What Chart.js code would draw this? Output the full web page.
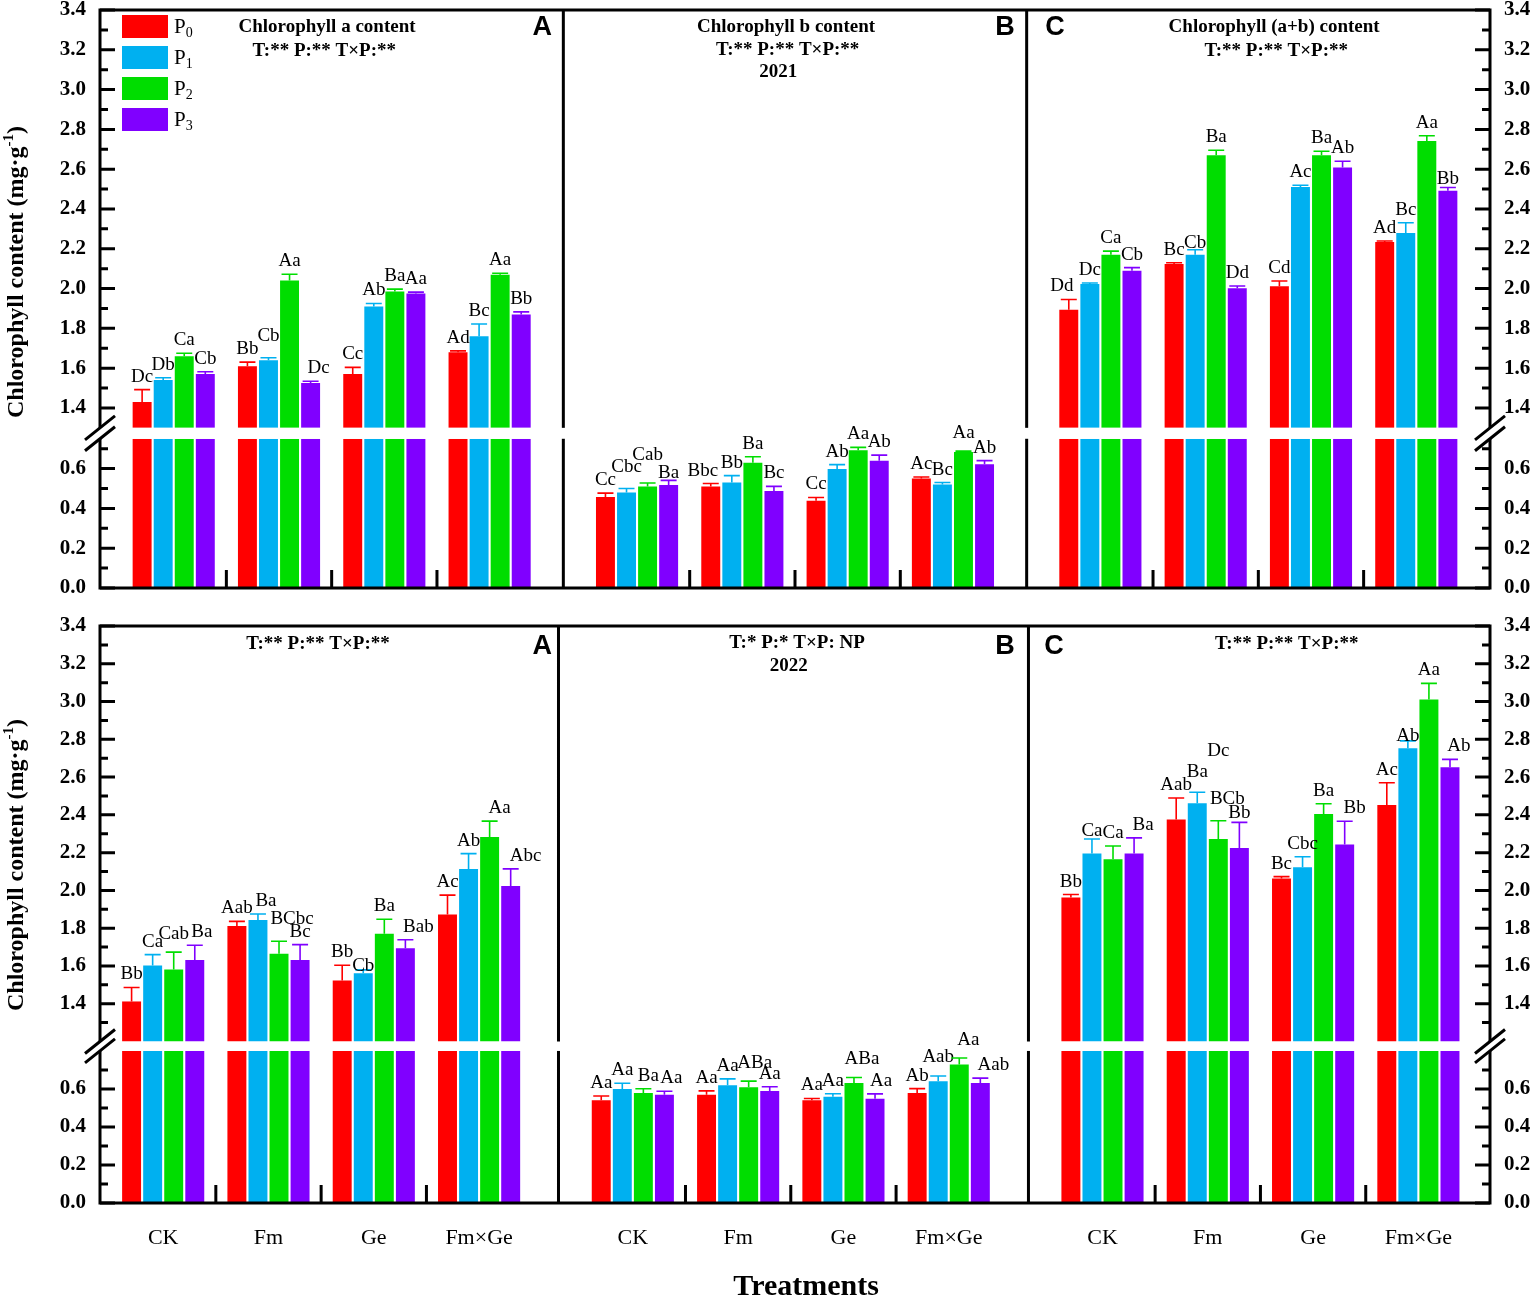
<!DOCTYPE html>
<html>
<head>
<meta charset="utf-8">
<title>Chlorophyll content 2021 / 2022</title>
<script src="https://cdn.jsdelivr.net/npm/chart.js@4.4.1/dist/chart.umd.min.js"></script>
<style>
  html, body { margin:0; padding:0; background:#ffffff; }
  #wrap { position:relative; width:1535px; height:1301px; overflow:hidden; background:#fff; }
  #c1 { position:absolute; left:0; top:0; }
  #c2 { position:absolute; left:0; top:605px; }
</style>
</head>
<body>
<div id="wrap">
  <canvas id="c1" width="1535" height="605"></canvas>
  <canvas id="c2" width="1535" height="696"></canvas>
</div>
<script>
const SERIF = '"Times New Roman", "Liberation Serif", serif';
const SANS = 'Arial, "Liberation Sans", sans-serif';

// ---------------- data ----------------
const categories = ['CK', 'Fm', 'Ge', 'Fm×Ge'];
const seriesNames = ['P0', 'P1', 'P2', 'P3'];
const seriesColors = ['#ff0000', '#00b0f0', '#00dd00', '#8000ff'];
const lowerTickValues = [0.0, 0.1, 0.2, 0.3, 0.4, 0.5, 0.6, 0.7, 0.8];
const upperTickValues = [1.2, 1.3, 1.4, 1.5, 1.6, 1.7, 1.8, 1.9, 2.0, 2.1, 2.2, 2.3, 2.4, 2.5, 2.6, 2.7, 2.8, 2.9, 3.0, 3.1, 3.2, 3.3, 3.4];

// rows: CK, Fm, Ge, Fm×Ge ; columns: P0, P1, P2, P3
const a2021 = [[1.43, 1.54, 1.66, 1.57], [1.61, 1.64, 2.04, 1.525], [1.57, 1.91, 1.985, 1.975], [1.68, 1.76, 2.07, 1.87]];
const a2021Err = [[0.062, 0.012, 0.015, 0.012], [0.02, 0.012, 0.032, 0.009], [0.034, 0.015, 0.012, 0.007], [0.007, 0.062, 0.007, 0.013]];
const a2021Sig = [['Dc', 'Db', 'Ca', 'Cb'], ['Bb', 'Cb', 'Aa', 'Dc'], ['Cc', 'Ab', 'Ba', 'Aa'], ['Ad', 'Bc', 'Aa', 'Bb']];

const b2021 = [[0.457, 0.48, 0.51, 0.518], [0.51, 0.53, 0.63, 0.488], [0.438, 0.598, 0.692, 0.64], [0.55, 0.52, 0.683, 0.622]];
const b2021Err = [[0.02, 0.02, 0.018, 0.023], [0.015, 0.035, 0.03, 0.023], [0.017, 0.022, 0.015, 0.028], [0.008, 0.01, 0.005, 0.018]];
const b2021Sig = [['Cc', 'Cbc', 'Cab', 'Ba'], ['Bbc', 'Bb', 'Ba', 'Bc'], ['Cc', 'Ab', 'Aa', 'Ab'], ['Ac', 'Bc', 'Aa', 'Ab']];

const ab2021 = [[1.893, 2.023, 2.17, 2.09], [2.123, 2.17, 2.67, 2.002], [2.012, 2.511, 2.67, 2.608], [2.234, 2.279, 2.742, 2.491]];
const ab2021Err = [[0.052, 0.005, 0.018, 0.015], [0.007, 0.025, 0.025, 0.011], [0.026, 0.008, 0.02, 0.032], [0.005, 0.052, 0.026, 0.017]];
const ab2021Sig = [['Dd', 'Dc', 'Ca', 'Cb'], ['Bc', 'Cb', 'Ba', 'Dd'], ['Cd', 'Ac', 'Ba', 'Ab'], ['Ad', 'Bc', 'Aa', 'Bb']];

const a2022 = [[1.412, 1.602, 1.581, 1.632], [1.812, 1.843, 1.664, 1.632], [1.523, 1.562, 1.771, 1.694], [1.873, 2.114, 2.283, 2.023]];
const a2022Err = [[0.074, 0.058, 0.092, 0.078], [0.024, 0.032, 0.067, 0.081], [0.081, 0.017, 0.076, 0.045], [0.102, 0.081, 0.084, 0.091]];
const a2022Sig = [['Bb', 'Ca', 'Cab', 'Ba'], ['Aab', 'Ba', 'BCbc', 'Bc'], ['Bb', 'Cb', 'Ba', 'Bab'], ['Ac', 'Ab', 'Aa', 'Abc']];

const b2022 = [[0.54, 0.60, 0.579, 0.57], [0.57, 0.62, 0.609, 0.589], [0.54, 0.559, 0.632, 0.549], [0.579, 0.641, 0.729, 0.632]];
const b2022Err = [[0.023, 0.03, 0.022, 0.018], [0.02, 0.033, 0.032, 0.023], [0.01, 0.016, 0.028, 0.025], [0.023, 0.027, 0.034, 0.025]];
const b2022Sig = [['Aa', 'Aa', 'Ba', 'Aa'], ['Aa', 'Aa', 'ABa', 'Aa'], ['Aa', 'Aa', 'ABa', 'Aa'], ['Ab', 'Aab', 'Aa', 'Aab']];

const ab2022 = [[1.963, 2.195, 2.165, 2.195], [2.375, 2.462, 2.272, 2.225], [2.063, 2.123, 2.404, 2.243], [2.452, 2.753, 3.011, 2.652]];
const ab2022Err = [[0.015, 0.077, 0.07, 0.083], [0.114, 0.058, 0.097, 0.135], [0.01, 0.055, 0.055, 0.123], [0.118, 0.039, 0.085, 0.042]];
const ab2022Sig = [['Bb', 'Ca', 'Ca', 'Ba'], ['Aab', 'Ba', 'BCb', 'Bb'], ['Bc', 'Cbc', 'Ba', 'Bb'], ['Ac', 'Ab', 'Aa', 'Ab']];

const texts2021 = [
  { t: 'Chlorophyll a content', x: 2.156, dy: 17, kind: 'title' },
  { t: 'T:** P:** T×P:**', x: 2.13, dy: 41, kind: 'title' },
  { t: 'A', x: 4.2, dy: 18, kind: 'tag' },
  { t: 'Chlorophyll b content', x: 6.515, dy: 17, kind: 'title' },
  { t: 'T:** P:** T×P:**', x: 6.53, dy: 40, kind: 'title' },
  { t: '2021', x: 6.44, dy: 62, kind: 'title' },
  { t: 'B', x: 8.594, dy: 18, kind: 'tag' },
  { t: 'C', x: 9.07, dy: 18, kind: 'tag' },
  { t: 'Chlorophyll (a+b) content', x: 11.15, dy: 17, kind: 'title' },
  { t: 'T:** P:** T×P:**', x: 11.17, dy: 41, kind: 'title' }
];
const texts2022 = [
  { t: 'T:** P:** T×P:**', x: 2.07, dy: 18, kind: 'title' },
  { t: 'A', x: 4.2, dy: 21, kind: 'tag' },
  { t: 'T:* P:* T×P: NP', x: 6.62, dy: 17, kind: 'title' },
  { t: '2022', x: 6.54, dy: 40, kind: 'title' },
  { t: 'B', x: 8.594, dy: 21, kind: 'tag' },
  { t: 'C', x: 9.06, dy: 21, kind: 'tag' },
  { t: 'T:** P:** T×P:**', x: 11.27, dy: 18, kind: 'title' }
];
const extraLabels2022 = [{ text: 'Dc', panel: 2, group: 1, series: 2, value: 2.714 }];
const yAxisTitle = ['Chlorophyll content (mg·g', '-1', ')'];
const xAxisTitle = 'Treatments';

// ---------------- layout ----------------
// letter nudges (pixels) where the original moved labels to avoid overlaps
const labelNudges = [
  { row: 'c1', p: 0, g: 1, s: 1, dx: 0, dy: -9 }, { row: 'c1', p: 0, g: 1, s: 3, dx: 8, dy: 0 },
  { row: 'c1', p: 1, g: 0, s: 1, dx: 0, dy: -9 }, { row: 'c1', p: 1, g: 0, s: 2, dx: 0, dy: -15 },
  { row: 'c1', p: 1, g: 0, s: 3, dx: 0, dy: 6 }, { row: 'c1', p: 1, g: 1, s: 0, dx: -8, dy: 0 },
  { row: 'c1', p: 1, g: 3, s: 2, dx: 0, dy: -5 },
  { row: 'c1', p: 2, g: 0, s: 0, dx: -7, dy: 0 }, { row: 'c1', p: 2, g: 1, s: 1, dx: 0, dy: 6 },
  { row: 'c1', p: 2, g: 3, s: 3, dx: 0, dy: 5 },
  { row: 'c2', p: 0, g: 0, s: 2, dx: 0, dy: -5 }, { row: 'c2', p: 0, g: 0, s: 3, dx: 7, dy: 0 },
  { row: 'c2', p: 0, g: 1, s: 1, dx: 8, dy: 0 }, { row: 'c2', p: 0, g: 1, s: 2, dx: 13, dy: -9 },
  { row: 'c2', p: 0, g: 2, s: 1, dx: 0, dy: 9 }, { row: 'c2', p: 0, g: 2, s: 3, dx: 13, dy: 0 },
  { row: 'c2', p: 0, g: 3, s: 2, dx: 10, dy: 0 }, { row: 'c2', p: 0, g: 3, s: 3, dx: 15, dy: 0 },
  { row: 'c2', p: 1, g: 0, s: 2, dx: 5, dy: 0 }, { row: 'c2', p: 1, g: 0, s: 3, dx: 7, dy: 0 },
  { row: 'c2', p: 1, g: 1, s: 2, dx: 6, dy: -5 }, { row: 'c2', p: 1, g: 2, s: 2, dx: 8, dy: -6 },
  { row: 'c2', p: 1, g: 2, s: 3, dx: 6, dy: 0 }, { row: 'c2', p: 1, g: 3, s: 1, dx: 0, dy: -6 },
  { row: 'c2', p: 1, g: 3, s: 2, dx: 9, dy: -5 }, { row: 'c2', p: 1, g: 3, s: 3, dx: 13, dy: 0 },
  { row: 'c2', p: 2, g: 0, s: 1, dx: 0, dy: 5 }, { row: 'c2', p: 2, g: 0, s: 3, dx: 9, dy: 0 },
  { row: 'c2', p: 2, g: 1, s: 1, dx: 0, dy: -7 }, { row: 'c2', p: 2, g: 1, s: 2, dx: 9, dy: -9 },
  { row: 'c2', p: 2, g: 1, s: 3, dx: 0, dy: 4 }, { row: 'c2', p: 2, g: 2, s: 3, dx: 10, dy: 0 },
  { row: 'c2', p: 2, g: 3, s: 1, dx: 0, dy: 8 }, { row: 'c2', p: 2, g: 3, s: 3, dx: 9, dy: 0 }
];

const rows = {
  c1: {
    panels: [
      { values: a2021, errors: a2021Err, letters: a2021Sig },
      { values: b2021, errors: b2021Err, letters: b2021Sig },
      { values: ab2021, errors: ab2021Err, letters: ab2021Sig }
    ],
    bounds: [0, 4.4, 8.8, 13.2], firstCenter: [0.7, 5.1, 9.5],
    loMax: 0.75, hiBase: 1.3, hiMin: 1.245,
    padTop: 10, xHeight: 17, showX: false, legend: true,
    texts: texts2021, extra: [], yTitleY: 272, xTitle: false
  },
  c2: {
    panels: [
      { values: a2022, errors: a2022Err, letters: a2022Sig },
      { values: b2022, errors: b2022Err, letters: b2022Sig },
      { values: ab2022, errors: ab2022Err, letters: ab2022Sig }
    ],
    bounds: [0, 4.354, 8.817, 13.2], firstCenter: [0.6, 5.06, 9.52],
    loMax: 0.8, hiBase: 1.2, hiMin: 1.15,
    padTop: 21, xHeight: 98, showX: true, legend: false,
    texts: texts2022, extra: extraLabels2022, yTitleY: 260, xTitle: true
  }
};

function isMajor(v) { return Math.round(v * 10) % 2 === 0; }
function nudgeFor(id, p, g, s) {
  const n = labelNudges.find(q => q.row === id && q.p === p && q.g === g && q.s === s);
  return n || { dx: 0, dy: 0 };
}

const decor = {
  id: 'decor',
  afterDatasetsDraw(chart) {
    const id = chart.canvas.id;
    const row = rows[id];
    const ctx = chart.ctx;
    const ca = chart.chartArea;
    const xs = chart.scales.x, lo = chart.scales.yLo, hi = chart.scales.yHi;
    ctx.save();

    // frame, panel dividers, group separator ticks, inward y ticks
    ctx.strokeStyle = '#000';
    ctx.lineWidth = 3;
    ctx.strokeRect(ca.left, ca.top, ca.right - ca.left, ca.bottom - ca.top);
    ctx.beginPath();
    row.bounds.slice(1, -1).forEach(b => {
      const px = xs.getPixelForValue(b);
      ctx.moveTo(px, ca.top); ctx.lineTo(px, ca.bottom);
    });
    row.firstCenter.forEach(fc => {
      for (let g = 0; g < categories.length - 1; g++) {
        const px = xs.getPixelForValue(fc + g + 0.5);
        ctx.moveTo(px, ca.bottom); ctx.lineTo(px, ca.bottom - 18);
      }
    });
    [lo, hi].forEach(sc => sc.ticks.forEach(t => {
      const y = sc.getPixelForValue(t.value);
      const L = isMajor(t.value) ? 15 : 8;
      ctx.moveTo(ca.left, y); ctx.lineTo(ca.left + L, y);
      ctx.moveTo(ca.right - L, y); ctx.lineTo(ca.right, y);
    }));
    ctx.stroke();

    // axis break
    const yA = hi.getPixelForValue(row.hiBase), yB = lo.getPixelForValue(row.loMax);
    ctx.fillStyle = '#fff';
    ctx.fillRect(ca.left - 5, yA, ca.right - ca.left + 10, yB - yA);
    ctx.beginPath();
    [ca.left, ca.right].forEach(ax => {
      [yA, yB].forEach(yc => {
        ctx.moveTo(ax - 15, yc + 12); ctx.lineTo(ax + 15, yc - 12);
      });
    });
    ctx.stroke();

    // error bars and significance letters
    ctx.font = '19px ' + SERIF;
    ctx.textAlign = 'center';
    ctx.textBaseline = 'alphabetic';
    for (let s = 0; s < seriesNames.length; s++) {
      const meta = chart.getDatasetMeta(2 * s);
      let k = 0;
      row.panels.forEach((panel, p) => {
        categories.forEach((c, g) => {
          const v = panel.values[g][s], e = panel.errors[g][s];
          const bar = meta.data[k++];
          const sc = v > row.hiBase ? hi : lo;
          const y0 = sc.getPixelForValue(v), y1 = sc.getPixelForValue(v + e);
          ctx.strokeStyle = seriesColors[s];
          ctx.lineWidth = 1.6;
          ctx.beginPath();
          ctx.moveTo(bar.x, y0); ctx.lineTo(bar.x, y1);
          ctx.moveTo(bar.x - 8, y1); ctx.lineTo(bar.x + 8, y1);
          ctx.stroke();
          const n = nudgeFor(id, p, g, s);
          ctx.fillStyle = '#000';
          ctx.fillText(panel.letters[g][s], bar.x + n.dx, y1 - 8 + n.dy);
        });
      });
    }
    row.extra.forEach(l => {
      const bar = chart.getDatasetMeta(2 * l.series).data[l.panel * categories.length + l.group];
      ctx.fillStyle = '#000';
      ctx.fillText(l.text, bar.x, hi.getPixelForValue(l.value));
    });

    // panel texts
    ctx.fillStyle = '#000';
    ctx.textBaseline = 'middle';
    row.texts.forEach(tx => {
      ctx.font = tx.kind === 'tag' ? 'bold 27px ' + SANS : 'bold 19px ' + SERIF;
      ctx.fillText(tx.t, xs.getPixelForValue(tx.x), ca.top + tx.dy);
    });

    // legend
    if (row.legend) {
      seriesNames.forEach((name, i) => {
        const bx = ca.left + 22, by = ca.top + 5 + i * 31;
        ctx.fillStyle = seriesColors[i];
        ctx.fillRect(bx, by, 46, 23);
        ctx.fillStyle = '#000';
        ctx.textAlign = 'left';
        ctx.font = '21px ' + SERIF;
        ctx.fillText(name.charAt(0), bx + 52, by + 12);
        const w = ctx.measureText(name.charAt(0)).width;
        ctx.font = '14px ' + SERIF;
        ctx.fillText(name.slice(1), bx + 52 + w, by + 18);
      });
    }

    // y axis title (rotated, with superscript)
    ctx.save();
    ctx.translate(17, row.yTitleY);
    ctx.rotate(-Math.PI / 2);
    ctx.textAlign = 'left';
    ctx.textBaseline = 'middle';
    const f1 = 'bold 24px ' + SERIF, f2 = 'bold 15px ' + SERIF;
    ctx.font = f1; const w1 = ctx.measureText(yAxisTitle[0]).width; const w3 = ctx.measureText(yAxisTitle[2]).width;
    ctx.font = f2; const w2 = ctx.measureText(yAxisTitle[1]).width;
    const x0 = -(w1 + w2 + w3) / 2;
    ctx.fillStyle = '#000';
    ctx.font = f1; ctx.fillText(yAxisTitle[0], x0, 0);
    ctx.font = f2; ctx.fillText(yAxisTitle[1], x0 + w1, -8);
    ctx.font = f1; ctx.fillText(yAxisTitle[2], x0 + w1 + w2, 0);
    ctx.restore();

    if (row.xTitle) {
      ctx.font = 'bold 30px ' + SERIF;
      ctx.textAlign = 'center';
      ctx.textBaseline = 'middle';
      ctx.fillText(xAxisTitle, ca.left + 0.508 * (ca.right - ca.left), 682);
    }
    ctx.restore();
  }
};

function yScale(row, position, which, weight) {
  const isLow = which === 'lo';
  const min = isLow ? 0 : row.hiMin;
  const max = isLow ? row.loMax : 3.4;
  return {
    type: 'linear', position: position, stack: position, stackWeight: weight,
    weight: (position === 'left') === isLow ? 0 : 1,
    min: min, max: max, stacked: false,
    grid: { display: false, drawTicks: true, tickLength: 14 },
    border: { display: false },
    afterBuildTicks: sc => {
      const vals = isLow
        ? lowerTickValues.filter(v => v >= 0 && v < row.loMax - 1e-9)
        : upperTickValues.filter(v => v > row.hiBase + 1e-9 && v <= 3.4 + 1e-9);
      sc.ticks = vals.map(v => ({ value: v }));
    },
    ticks: {
      autoSkip: false, padding: 0, color: '#000',
      font: { family: SERIF, size: 21, weight: 'bold', lineHeight: 0.9 },
      callback: v => (isMajor(v) ? v.toFixed(1) : '')
    },
    afterFit: sc => { sc.width = position === 'left' ? 100 : 45; }
  };
}

function makeChart(id) {
  const row = rows[id];
  const datasets = [];
  seriesNames.forEach((name, s) => {
    const lowData = [], highData = [];
    row.panels.forEach((panel, p) => {
      categories.forEach((cat, g) => {
        const xv = row.firstCenter[p] + g;
        const v = panel.values[g][s];
        lowData.push({ x: xv, y: [0, Math.min(v, row.loMax)] });
        highData.push({ x: xv, y: v > row.hiBase ? [row.hiBase, v] : null });
      });
    });
    datasets.push({ label: name, data: lowData, yAxisID: 'yLo', stack: 's' + s, backgroundColor: seriesColors[s], borderWidth: 0 });
    datasets.push({ label: name, data: highData, yAxisID: 'yHi', stack: 's' + s, backgroundColor: seriesColors[s], borderWidth: 0 });
  });
  const centers = [];
  row.firstCenter.forEach(fc => categories.forEach((c, g) => centers.push(fc + g)));
  const loW = row.loMax, hiW = (3.4 - row.hiMin) * (id === 'c1' ? 1.0 : 188.3 / 189.5);

  return new Chart(document.getElementById(id), {
    type: 'bar',
    data: { datasets: datasets },
    options: {
      responsive: false, animation: false, devicePixelRatio: 1,
      categoryPercentage: 0.8, barPercentage: 0.9,
      layout: { padding: { top: row.padTop, left: 0, right: 0, bottom: 0 } },
      plugins: { legend: { display: false }, tooltip: { enabled: false }, title: { display: false } },
      scales: {
        x: {
          type: 'linear', min: 0, max: 13.2, offset: false,
          grid: { display: false, drawTicks: false }, border: { display: false },
          afterBuildTicks: sc => { sc.ticks = centers.map(v => ({ value: v })); },
          ticks: {
            display: row.showX, autoSkip: false, maxRotation: 0, minRotation: 0, padding: 22, color: '#000',
            font: { family: SERIF, size: 22 },
            callback: (v, i) => categories[i % categories.length]
          },
          afterFit: sc => { sc.height = row.xHeight; }
        },
        yLo: yScale(row, 'left', 'lo', loW),
        yHi: yScale(row, 'left', 'hi', hiW),
        yHiR: yScale(row, 'right', 'hi', hiW),
        yLoR: yScale(row, 'right', 'lo', loW)
      }
    },
    plugins: [decor]
  });
}

makeChart('c1');
makeChart('c2');
</script>
</body>
</html>
